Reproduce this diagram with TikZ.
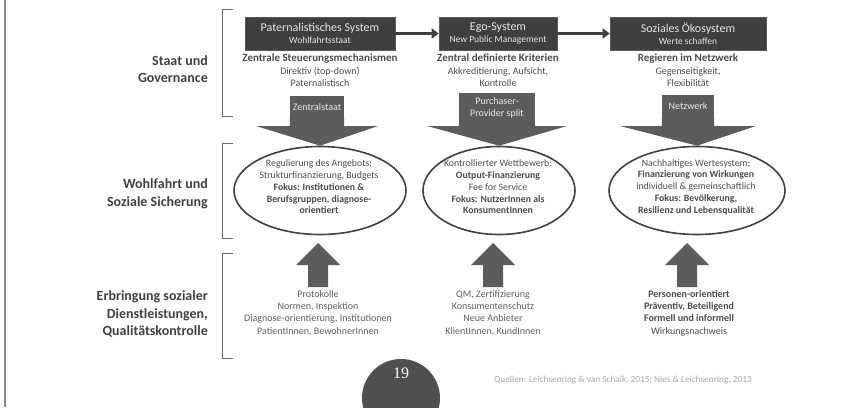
\documentclass[tikz,border=0pt]{standalone}
\usepackage{fontspec}
\setmainfont{Carlito}
\newfontfamily\numfont{Liberation Serif}
\usetikzlibrary{arrows.meta,shapes.geometric}
\definecolor{boxfill}{HTML}{3F3F3F}
\definecolor{boxedge}{HTML}{5A5A5A}
\definecolor{boxtext}{HTML}{E6E6E6}
\definecolor{arrowgray}{HTML}{5C5C5C}
\definecolor{labtext}{HTML}{404040}
\definecolor{bodytext}{HTML}{4A4A4A}
\definecolor{lighttext}{HTML}{5E5E5E}
\definecolor{brackcol}{HTML}{6A6A6A}
\definecolor{citecol}{HTML}{A8A8A8}
\definecolor{circcol}{HTML}{505050}
\begin{document}
\begin{tikzpicture}[x=1pt,y=-1pt,
  sysbox/.style={draw=boxedge, line width=0.6pt, fill=boxfill, text=boxtext, minimum height=33pt, inner sep=0pt, align=center, font=\fontsize{12}{13}\selectfont},
  subtext/.style={anchor=north, align=center, text=bodytext, inner sep=0pt, font=\fontsize{10}{12.5}\selectfont},
  labbox/.style={fill=arrowgray, text=boxtext, inner sep=0pt, align=center, font=\fontsize{10}{12}\selectfont},
  ellshape/.style={ellipse, draw=labtext, line width=1.6pt, inner sep=0pt, minimum height=88pt},
  elltext/.style={align=center, text=bodytext, inner sep=0pt, font=\fontsize{9.8}{11.8}\selectfont},
  bottext/.style={anchor=north, align=center, text=lighttext, inner sep=0pt, font=\fontsize{10}{12.3}\selectfont},
  sidelabel/.style={anchor=east, align=right, text=labtext, inner sep=0pt, font=\bfseries\fontsize{14}{17.5}\selectfont},
  brack/.style={draw=brackcol, line width=1pt},
  sysarrow/.style={draw=boxfill, line width=3.5pt, -{Triangle[length=7pt,width=10pt]}},
  bigarrow/.style={fill=arrowgray},
]
\useasboundingbox (0,0) rectangle (858,407);
\begin{scope}
\clip (0,0) rectangle (858,407);
% left border line
\draw[draw=brackcol!80, line width=1.5pt] (5,0) -- (5,407);

% side labels
\node[sidelabel] (l1) at (208,69) {Staat und\\Governance};
\node[sidelabel] (l2) at (208,194) {Wohlfahrt und\\Soziale Sicherung};
\node[sidelabel] (l3) at (208,314) {Erbringung sozialer\\Dienstleistungen,\\Qualitätskontrolle};

% brackets
\draw[brack] (233,9) -- (222,9) -- (222,116) -- (233,116);
\draw[brack] (233,143) -- (222,143) -- (222,238) -- (233,238);
\draw[brack] (233,253) -- (222,253) -- (222,358) -- (233,358);

% system boxes
\node[sysbox, minimum width=150pt] (b1) at (320,33.5) {Paternalistisches System\\[-1pt]{\fontsize{9.5}{11}\selectfont Wohlfahrtsstaat}};
\node[sysbox, minimum width=118pt] (b2) at (498,33.5) {Ego-System\\[-1pt]{\fontsize{9.5}{11}\selectfont New Public Management}};
\node[sysbox, minimum width=156pt] (b3) at (688,33.5) {Soziales Ökosystem\\[-1pt]{\fontsize{9.5}{11}\selectfont Werte schaffen}};
\draw[sysarrow] (b1.east) -- (b2.west);
\draw[sysarrow] (b2.east) -- (b3.west);

% text under boxes
\node[subtext] (s1) at (320,54) {{\bfseries\fontsize{11}{12.5}\selectfont Zentrale Steuerungsmechanismen}\\Direktiv (top-down)\\Paternalistisch};
\node[subtext] (s2) at (498,54) {{\bfseries\fontsize{11}{12.5}\selectfont Zentral definierte Kriterien}\\Akkreditierung, Aufsicht,\\Kontrolle};
\node[subtext] (s3) at (688,54) {{\bfseries\fontsize{11}{12.5}\selectfont Regieren im Netzwerk}\\Gegenseitigkeit,\\Flexibilität};

% ellipses
\node[ellshape, minimum width=172pt] (e1) at (320,190.5) {};
\node[ellshape, minimum width=152pt] (e2) at (499,190.5) {};
\node[ellshape, minimum width=176pt] (e3) at (697,190.5) {};

% label boxes on big arrows
\node[labbox, minimum width=54pt, minimum height=22pt] (lab1) at (317,107) {Zentralstaat};
\node[labbox, minimum width=76pt, minimum height=31pt] (lab2) at (497,108) {Purchaser-\\Provider split};
\node[labbox, minimum width=52pt, minimum height=22pt] (lab3) at (688,106) {Netzwerk};

\coordinate (h1) at (317,126);
\coordinate (h2) at (497,126);
\coordinate (h3) at (688,126);
\fill[bigarrow] (lab1.south west) -- (lab1.south east) -- (lab1.south east |- h1) -- ([xshift=61pt]h1) -- (e1.north) -- ([xshift=-61pt]h1) -- (lab1.south west |- h1) -- cycle;
\fill[bigarrow] (lab2.south west) -- (lab2.south east) -- (lab2.south east |- h2) -- ([xshift=70pt]h2) -- (e2.north) -- ([xshift=-70pt]h2) -- (lab2.south west |- h2) -- cycle;
\fill[bigarrow] (lab3.south west) -- (lab3.south east) -- (lab3.south east |- h3) -- ([xshift=68pt]h3) -- (e3.north) -- ([xshift=-68pt]h3) -- (lab3.south west |- h3) -- cycle;

% ellipse texts
\node[elltext] (t1) at (319,187) {Regulierung des Angebots:\\Strukturfinanzierung, Budgets\\\textbf{Fokus: Institutionen \&}\\\textbf{Berufsgruppen, diagnose-}\\\textbf{orientiert}};
\node[elltext] (t2) at (498,187) {Kontrollierter Wettbewerb:\\\textbf{Output-Finanzierung}\\Fee for Service\\\textbf{Fokus: NutzerInnen als}\\\textbf{KonsumentInnen}};
\node[elltext] (t3) at (696,187) {Nachhaltiges Wertesystem:\\\textbf{Finanzierung von Wirkungen}\\individuell \& gemeinschaftlich\\\textbf{Fokus: Bevölkerung,}\\\textbf{Resilienz und Lebensqualität}};

% bottom texts
\node[bottext] (u1) at (318,290) {Protokolle\\Normen, Inspektion\\Diagnose-orientierung, Institutionen\\PatientInnen, BewohnerInnen};
\node[bottext] (u2) at (493,290) {QM, Zertifizierung\\Konsumentenschutz\\Neue Anbieter\\KlientInnen, KundInnen};
\node[bottext, text=bodytext] (u3) at (689,290) {\textbf{Personen-orientiert}\\\textbf{Präventiv, Beteiligend}\\\textbf{Formell und informell}\\Wirkungsnachweis};

% up arrows (from text towards ellipse)
\foreach \n/\cx in {1/318, 2/493, 3/687} {
  \coordinate (ub\n) at (\cx,287);
  \coordinate (ut\n) at (\cx,243);
  \fill[bigarrow] ([xshift=-10pt]ub\n) -- ([xshift=10pt]ub\n) -- ([xshift=10pt]\cx,265) -- ([xshift=22pt]\cx,265) -- (ut\n) -- ([xshift=-22pt]\cx,265) -- ([xshift=-10pt]\cx,265) -- cycle;
}

% page number circle and source
\fill[circcol] (401,398) circle[radius=39pt];
\node[text=white, inner sep=0pt, font=\numfont\fontsize{16}{18}\selectfont] (pg) at (401,373) {19};
\node[text=citecol, inner sep=0pt, font=\fontsize{9.3}{11}\selectfont] (cite) at (623,380) {Quellen: Leichsenring \& van Schaik, 2015; Nies \& Leichsenring, 2013};
\end{scope}
\end{tikzpicture}
\end{document}
